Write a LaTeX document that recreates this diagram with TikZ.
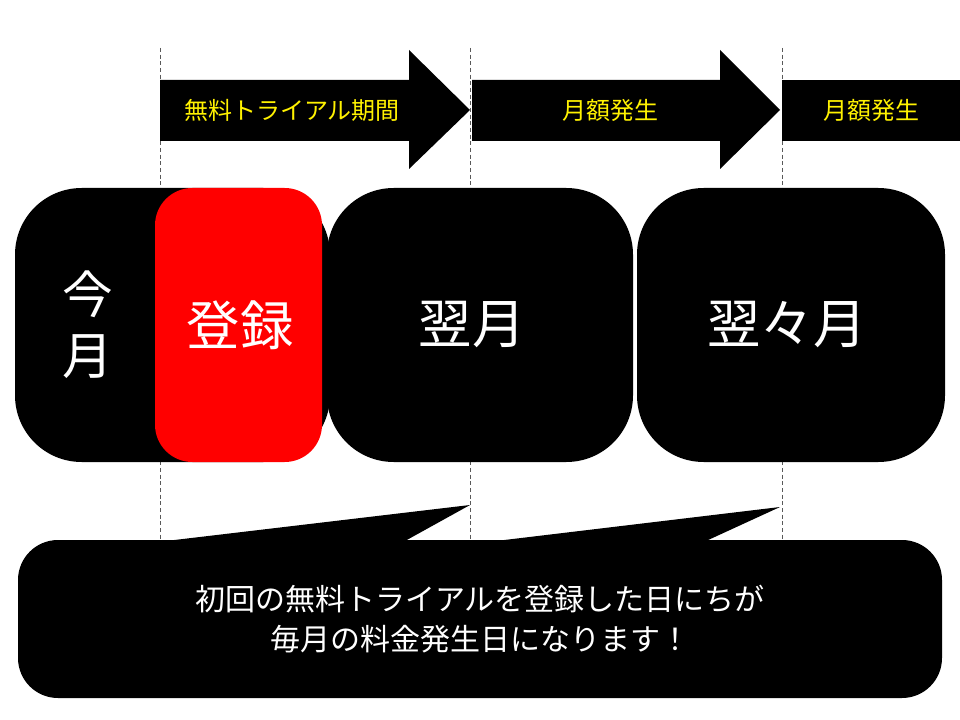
\documentclass[tikz,border=0pt]{standalone}
\usepackage{fontspec}
\setmainfont{Noto Sans CJK JP}
\begin{document}
\begin{tikzpicture}[x=0.75pt,y=-0.75pt]
\tikzset{guide/.style={gray!70!black,dashed,line width=0.5pt,dash pattern=on 3pt off 2pt},
 blk/.style={fill=black,draw=none},
 ytxt/.style={text=yellow,font=\fontsize{18}{20}\selectfont},
 btxt/.style={text=white,font=\fontsize{40}{44}\selectfont},
 ctxt/.style={text=white,font=\fontsize{22.5}{30}\selectfont,align=center}}
\useasboundingbox (0,0) rectangle (960,720);
\fill[white] (0,0) rectangle (960,720);
% guides
\foreach \x/\n in {160/g1,470/g2,782/g3}{
  \coordinate (\n t) at (\x,48); \coordinate (\n b) at (\x,540);
  \draw[guide] (\n t) -- (\n b);}
% arrows
\fill[blk] (160,80) -- (409,80) -- (409,50) -- (470,110) -- (409,169) -- (409,141) -- (160,141) -- cycle;
\node[ytxt] (a1) at (292,110) {無料トライアル期間};
\fill[blk] (472,80) -- (720,80) -- (720,50) -- (780,110) -- (720,169) -- (720,141) -- (472,141) -- cycle;
\node[ytxt] (a2) at (610,110) {月額発生};
\fill[blk] (782,80) rectangle (960,141);
\node[ytxt] (a3) at (871,110) {月額発生};
% month boxes
\fill[blk,rounded corners=50pt] (15,188) rectangle (330,462);
\fill[red,rounded corners=28pt] (155,188) rectangle (322,462);
\fill[blk,rounded corners=50pt] (327,188) rectangle (633,462);
\fill[blk,rounded corners=50pt] (637,188) rectangle (945,462);
\node[btxt,align=center,font=\fontsize{38}{46}\selectfont] (m0) at (88,325) {今\\月};
\node[btxt] (m1) at (240,325) {登録};
\node[btxt] (m2) at (472,325) {翌月};
\node[btxt] (m3) at (787,325) {翌々月};
% callout
\fill[blk,rounded corners=30pt] (18,540) rectangle (942,698);
\fill[blk] (166,541) -- (470,505) -- (405,541) -- cycle;
\fill[blk] (496,541) -- (780,507) -- (706,541) -- cycle;
\node[ctxt] (c) at (480,619) {初回の無料トライアルを登録した日にちが\\毎月の料金発生日になります！};
\end{tikzpicture}
\end{document}
